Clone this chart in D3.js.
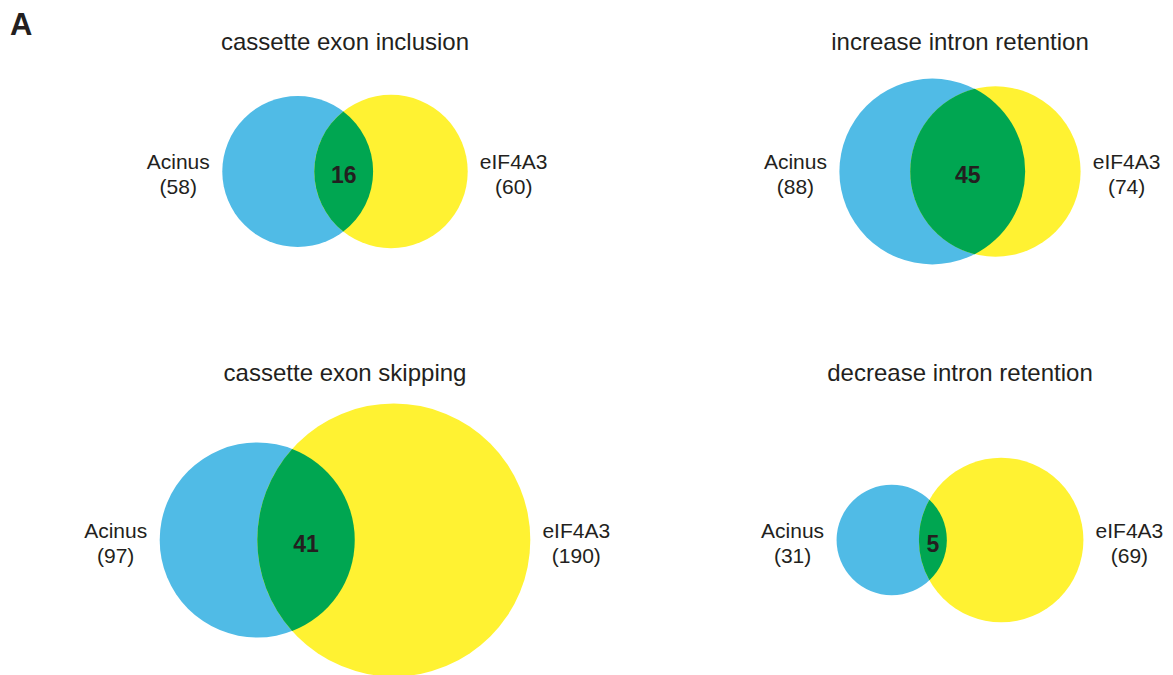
<!DOCTYPE html>
<html>
<head>
<meta charset="utf-8">
<script src="https://cdn.jsdelivr.net/npm/d3@7"></script>
<style>
  html, body { margin: 0; padding: 0; background: #fff; }
  svg { display: block; }
  text { font-family: "Liberation Sans", Arial, Helvetica, sans-serif; fill: #231f20; }
</style>
</head>
<body>
<svg id="chart" width="1173" height="675"></svg>
<script>
// Event types compared between the two knockdowns
const eventTypes = [
  "cassette exon inclusion",
  "increase intron retention",
  "cassette exon skipping",
  "decrease intron retention"
];
const setNames = ["Acinus", "eIF4A3"];
const acinusCounts = [58, 88, 97, 31];
const eif4a3Counts = [60, 74, 190, 69];
const sharedCounts = [16, 45, 41, 5];

// Grid of panels: 2 columns x 2 rows
const panelCol = [0, 1, 0, 1];
const panelRow = [0, 0, 1, 1];

const svg = d3.select("#chart");

const colX = d3.scalePoint().domain([0, 1]).range([345, 960]);
const rowY = d3.scalePoint().domain([0, 1]).range([171.5, 540]);
const titleY = d3.scalePoint().domain([0, 1]).range([49.5, 381]);

// Circle area is proportional to the number of events
const rScale = d3.scaleSqrt().domain([0, 190]).range([0, 136.5]);

const colors = { a: "#50bbe6", b: "#fff232", ab: "#00a651" };

function lensArea(r1, r2, d) {
  if (d >= r1 + r2) return 0;
  if (d <= Math.abs(r1 - r2)) return Math.PI * Math.min(r1, r2) ** 2;
  const a1 = Math.acos((d * d + r1 * r1 - r2 * r2) / (2 * d * r1));
  const a2 = Math.acos((d * d + r2 * r2 - r1 * r1) / (2 * d * r2));
  return r1 * r1 * a1 + r2 * r2 * a2 -
    0.5 * Math.sqrt((-d + r1 + r2) * (d + r1 - r2) * (d - r1 + r2) * (d + r1 + r2));
}

// Distance between centres giving an overlap area matching the shared count
function solveDistance(r1, r2, target) {
  let lo = Math.abs(r1 - r2), hi = r1 + r2;
  for (let i = 0; i < 80; i++) {
    const mid = (lo + hi) / 2;
    if (lensArea(r1, r2, mid) > target) lo = mid; else hi = mid;
  }
  return (lo + hi) / 2;
}

const panels = eventTypes.map((name, i) => {
  const r1 = rScale(acinusCounts[i]);
  const r2 = rScale(eif4a3Counts[i]);
  const target = Math.PI * rScale(sharedCounts[i]) ** 2;
  const d = solveDistance(r1, r2, target);
  const extent = r1 + d + r2;
  const cx = colX(panelCol[i]);
  const cy = rowY(panelRow[i]);
  const x1 = cx - extent / 2 + r1;
  const x2 = x1 + d;
  return { name, i, r1, r2, d, x1, x2, cy, ty: titleY(panelRow[i]), cx };
});

// Panel letter
svg.append("text")
  .attr("x", 10).attr("y", 35)
  .style("font-size", "31px").style("font-weight", "bold")
  .text("A");

const g = svg.selectAll("g.panel").data(panels).join("g").attr("class", "panel");

g.append("text")
  .attr("x", p => p.cx).attr("y", p => p.ty)
  .attr("text-anchor", "middle")
  .style("font-size", "24px")
  .text(p => p.name);

g.append("circle")
  .attr("cx", p => p.x1).attr("cy", p => p.cy).attr("r", p => p.r1)
  .attr("fill", colors.a);

g.append("circle")
  .attr("cx", p => p.x2).attr("cy", p => p.cy).attr("r", p => p.r2)
  .attr("fill", colors.b);

// Overlap lens built from the two circle arcs
g.append("path")
  .attr("fill", colors.ab)
  .attr("d", p => {
    const a = (p.d * p.d + p.r1 * p.r1 - p.r2 * p.r2) / (2 * p.d);
    const h = Math.sqrt(Math.max(0, p.r1 * p.r1 - a * a));
    const xi = p.x1 + a;
    const large1 = a < 0 ? 1 : 0;
    const large2 = (p.d - a) < 0 ? 1 : 0;
    return `M${xi},${p.cy - h}` +
      `A${p.r1},${p.r1} 0 ${large1} 1 ${xi},${p.cy + h}` +
      `A${p.r2},${p.r2} 0 ${large2} 1 ${xi},${p.cy - h}Z`;
  });

g.append("text")
  .attr("x", p => ((p.x2 - p.r2) + (p.x1 + p.r1)) / 2)
  .attr("y", p => p.cy + 11.5)
  .attr("text-anchor", "middle")
  .style("font-size", "23px").style("font-weight", "bold")
  .text(p => sharedCounts[p.i]);

// Set labels with totals
const labelSize = "21px";
g.append("text")
  .attr("x", p => p.x1 - p.r1 - 44).attr("y", p => p.cy - 2.5)
  .attr("text-anchor", "middle").style("font-size", labelSize)
  .text(setNames[0]);
g.append("text")
  .attr("x", p => p.x1 - p.r1 - 44).attr("y", p => p.cy + 22.5)
  .attr("text-anchor", "middle").style("font-size", labelSize)
  .text(p => `(${acinusCounts[p.i]})`);
g.append("text")
  .attr("x", p => p.x2 + p.r2 + 46).attr("y", p => p.cy - 2.5)
  .attr("text-anchor", "middle").style("font-size", labelSize)
  .text(setNames[1]);
g.append("text")
  .attr("x", p => p.x2 + p.r2 + 46).attr("y", p => p.cy + 22.5)
  .attr("text-anchor", "middle").style("font-size", labelSize)
  .text(p => `(${eif4a3Counts[p.i]})`);
</script>
</body>
</html>
